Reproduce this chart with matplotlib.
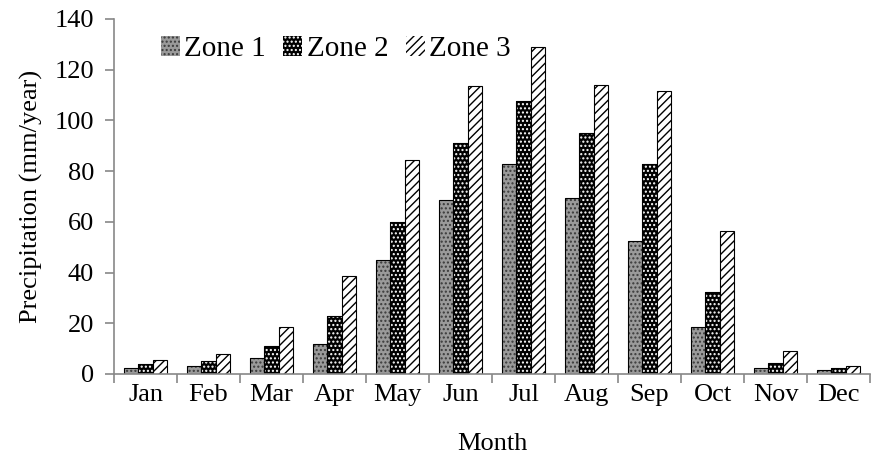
import numpy as np
import matplotlib.pyplot as plt
from matplotlib.patches import Patch

months = ['Jan', 'Feb', 'Mar', 'Apr', 'May', 'Jun', 'Jul', 'Aug', 'Sep', 'Oct', 'Nov', 'Dec']
zone1 = [2.5, 3, 6.5, 12, 45, 68.5, 83, 69.5, 52.5, 18.5, 2.5, 1.5]
zone2 = [4, 5, 11, 23, 60, 91, 107.5, 95, 83, 32.5, 4.5, 2.5]
zone3 = [5.5, 8, 18.5, 38.5, 84.5, 113.5, 129, 114, 111.5, 56.5, 9, 3]
labels = ['Zone 1', 'Zone 2', 'Zone 3']

plt.rcParams['font.family'] = ['Liberation Serif', 'DejaVu Serif']
plt.rcParams['hatch.linewidth'] = 1.0

fig = plt.figure(figsize=(8.71, 4.62), dpi=100)
ax = fig.add_axes([0.1309, 0.1905, 0.868, 0.7684])

x = np.arange(len(months))
w = 0.227
styles = [('#9a9a9a', '#3a3a3a', '....'),
          ('#000000', '#ffffff', '....'),
          ('#ffffff', '#000000', '////')]
handles = []
for i, (vals, (fc, hc, h)) in enumerate(zip([zone1, zone2, zone3], styles)):
    pos = x + (i - 1) * w
    ax.bar(pos, vals, w, color=fc, edgecolor=hc, hatch=h, linewidth=0)
    ax.bar(pos, vals, w, fill=False, edgecolor='black', linewidth=0.8)
    handles.append(Patch(facecolor=fc, edgecolor=hc, hatch=h, linewidth=0, label=labels[i]))

ax.set_xlim(-0.5, 11.5)
ax.set_ylim(0, 140)
ax.set_yticks(range(0, 141, 20))
ax.set_xticks(x)
ax.set_xticklabels(months)
ax.set_xticks(np.arange(-0.5, 12, 1), minor=True)

for s in ['top', 'right']:
    ax.spines[s].set_visible(False)
for s in ['left', 'bottom']:
    ax.spines[s].set_color('#888888')
    ax.spines[s].set_linewidth(1.2)

ax.tick_params(axis='y', length=6.5, width=1.2, color='#888888', labelsize=19, pad=8)
ax.tick_params(axis='x', which='major', length=0, labelsize=19, pad=7)
ax.tick_params(axis='x', which='minor', length=6.5, width=1.2, color='#888888')

ax.set_ylabel('Precipitation (mm/year)', fontsize=19, labelpad=8)
ax.set_xlabel('Month', fontsize=19, labelpad=20)

ax.legend(handles=handles, loc='upper left', bbox_to_anchor=(0.027, 1.025), ncol=3,
          frameon=False, fontsize=21, handlelength=0.65, handleheight=0.65,
          handletextpad=0.15, columnspacing=0.6)

fig.savefig('out.png', dpi=100)
